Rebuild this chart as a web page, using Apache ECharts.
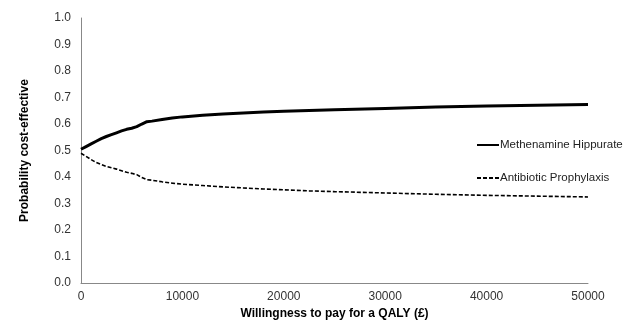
<!DOCTYPE html>
<html><head><meta charset="utf-8">
<script src="https://cdn.jsdelivr.net/npm/echarts@6/dist/echarts.min.js"></script>
<style>html,body{margin:0;padding:0;background:#fff}#c{width:635px;height:325px}</style>
</head><body><div id="c"></div>
<script>
var wtp = [0, 500, 1000, 1500, 2000, 2500, 3000, 3500, 4000, 4500, 5000, 5500, 6000, 6500, 7000, 8000, 9000, 10000, 12000, 14000, 16000, 18000, 20000, 22500, 25000, 30000, 35000, 40000, 45000, 50000];
var methenamine = [0.505, 0.515, 0.525, 0.535, 0.545, 0.553, 0.560, 0.567, 0.574, 0.580, 0.584, 0.590, 0.600, 0.609, 0.611, 0.617, 0.623, 0.627, 0.633, 0.638, 0.642, 0.645, 0.648, 0.651, 0.654, 0.659, 0.664, 0.668, 0.671, 0.674];
var antibiotic = [0.490, 0.478, 0.466, 0.455, 0.447, 0.440, 0.435, 0.430, 0.424, 0.418, 0.414, 0.409, 0.398, 0.390, 0.388, 0.382, 0.377, 0.373, 0.368, 0.363, 0.359, 0.355, 0.352, 0.348, 0.345, 0.340, 0.335, 0.331, 0.328, 0.325];
var seriesNames = ['Methenamine Hippurate', 'Antibiotic Prophylaxis'];
var xTitle = 'Willingness to pay for a QALY (£)';
var yTitle = 'Probability cost-effective';

function pairs(xs, ys){ return xs.map(function(x,i){ return [x, ys[i]]; }); }

var chart = echarts.init(document.getElementById('c'), null, {renderer:'canvas'});
var font = 'Liberation Sans, Arial, sans-serif';
chart.setOption({
  animation: false,
  textStyle: {fontFamily: font},
  grid: {left: 81, right: 47, top: 18, bottom: 37, containLabel: false},
  legend: {
    orient: 'vertical', left: 471, top: 134, itemGap: 21, itemWidth: 22, itemHeight: 10,
    itemStyle: {opacity: 0},
    textStyle: {fontFamily: font, fontSize: 11.5, color: '#222', padding: [0,0,0,-4]},
    data: seriesNames
  },
  xAxis: {
    type: 'value', min: 0, max: 50000, interval: 10000,
    name: xTitle, nameLocation: 'middle', nameGap: 24,
    nameTextStyle: {fontFamily: font, fontSize: 12, fontWeight: 'bold', color: '#000'},
    axisLine: {show: true, lineStyle: {color: '#888', width: 1}},
    axisTick: {show: false},
    splitLine: {show: false},
    axisLabel: {fontFamily: font, fontSize: 12, color: '#333', margin: 8, formatter: function(v){ return String(v); }}
  },
  yAxis: {
    type: 'value', min: 0, max: 1, interval: 0.1,
    name: yTitle, nameLocation: 'middle', nameGap: 50, nameRotate: 90,
    nameTextStyle: {fontFamily: font, fontSize: 12, fontWeight: 'bold', color: '#000'},
    axisLine: {show: true, lineStyle: {color: '#888', width: 1}},
    axisTick: {show: false},
    splitLine: {show: false},
    axisLabel: {fontFamily: font, fontSize: 12, color: '#333', margin: 10, formatter: function(v){ return v.toFixed(1); }}
  },
  series: [
    {name: seriesNames[0], type: 'line', data: pairs(wtp, methenamine), symbol: 'none', smooth: false,
     lineStyle: {color: '#000', width: 3}, itemStyle: {color: '#000'}},
    {name: seriesNames[1], type: 'line', data: pairs(wtp, antibiotic), symbol: 'none', smooth: false,
     lineStyle: {color: '#000', width: 1.6, type: [4, 2]}, itemStyle: {color: '#000'}}
  ]
});
</script></body></html>
